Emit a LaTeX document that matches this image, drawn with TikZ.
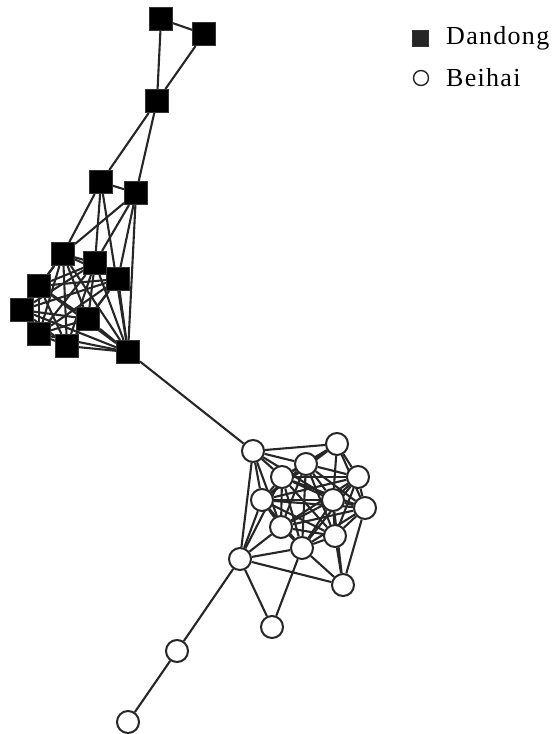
\documentclass[tikz,border=0pt]{standalone}
\usepackage{fontspec}
\setmainfont{Liberation Serif}
\newfontfamily\legfont[LetterSpace=5]{Liberation Serif}
\usetikzlibrary{backgrounds}
\begin{document}
\begin{tikzpicture}[x=1pt,y=-1pt,
  sq/.style={draw=black!80,line width=1pt,fill=black,minimum size=23pt,inner sep=0pt},
  ci/.style={draw=black!85,line width=2pt,fill=white,circle,minimum size=22pt,inner sep=0pt},
  ed/.style={draw=black!85,line width=2.1pt},
  lg/.style={font=\legfont\fontsize{26}{28}\selectfont,anchor=west}]
\useasboundingbox (0,0) rectangle (555,734);
% squares
\foreach \n/\x/\y in {S1/161/19,S2/204/34,S3/157/101,S4/101/182,S5/136/193,S6/63/254,S7/95/263,S8/118/279,S9/39/286,S10/22/310,S11/88/319,S12/39/334,S13/67/346,S14/128/352}
  \node[sq] (\n) at (\x,\y) {};
% circles
\foreach \n/\x/\y in {C1/253/451,C2/337/444,C3/306/464,C4/282/477,C5/358/477,C6/262/500,C7/333/500,C8/365/508,C9/281/527,C10/335/536,C11/302/548,C12/240/559,C13/343/585,C14/272/627,C15/177/651,C16/128/722}
  \node[ci] (\n) at (\x,\y) {};
\begin{scope}[on background layer]
\foreach \a/\b in {S1/S2,S1/S3,S2/S3,S3/S4,S3/S5,S4/S5,S4/S6,S4/S7,S4/S14,S5/S6,S5/S7,S5/S8,S5/S14,S14/C1}
  \draw[ed] (\a) -- (\b);
\foreach \a/\b in {S6/S7,S6/S8,S6/S9,S6/S10,S6/S11,S6/S12,S6/S13,S6/S14,
  S7/S8,S7/S9,S7/S10,S7/S11,S7/S12,S7/S13,S7/S14,
  S8/S9,S8/S10,S8/S11,S8/S12,S8/S13,S8/S14,
  S9/S10,S9/S11,S9/S12,S9/S13,S9/S14,
  S10/S11,S10/S12,S10/S13,S10/S14,
  S11/S12,S11/S13,S11/S14,S12/S13,S12/S14,S13/S14}
  \draw[ed] (\a) -- (\b);
\foreach \a/\b in {C1/C2,C1/C3,C1/C4,C1/C6,C1/C9,C1/C7,C1/C12,
  C2/C3,C2/C4,C2/C5,C2/C7,C2/C8,C2/C6,
  C12/C6,C12/C9,C12/C4,C12/C11,C12/C13,C12/C14,C12/C15,
  C13/C11,C13/C10,C13/C8,C13/C7,C14/C11,C15/C16}
  \draw[ed] (\a) -- (\b);
\foreach \a/\b in {C3/C4,C3/C5,C3/C6,C3/C7,C3/C8,C3/C9,C3/C10,C3/C11,
  C4/C5,C4/C6,C4/C7,C4/C8,C4/C9,C4/C10,C4/C11,
  C5/C6,C5/C7,C5/C8,C5/C9,C5/C10,C5/C11,
  C6/C7,C6/C8,C6/C9,C6/C10,C6/C11,
  C7/C8,C7/C9,C7/C10,C7/C11,
  C8/C9,C8/C10,C8/C11,C9/C10,C9/C11,C10/C11}
  \draw[ed] (\a) -- (\b);
\end{scope}
% legend
\node[draw=black!80,fill=black!85,minimum size=16pt,inner sep=0pt] (lsq) at (420,38) {};
\node[draw=black!85,line width=1.4pt,circle,minimum size=15pt,inner sep=0pt] (lci) at (421,78) {};
\node[lg,inner sep=0pt] (ld) at (446,38) {Dandong};
\node[lg,inner sep=0pt] (lb) at (446,78) {Beihai};
\end{tikzpicture}
\end{document}
